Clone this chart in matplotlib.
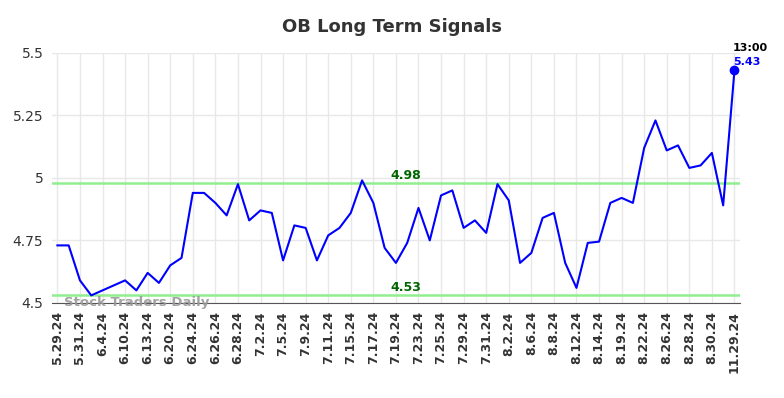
import matplotlib
matplotlib.use("Agg")
import matplotlib.pyplot as plt

# closing values, one per session; every other session gets a date label
values = [
    4.73, 4.73, 4.59, 4.53, 4.55, 4.57, 4.59, 4.55, 4.62, 4.58,
    4.65, 4.68, 4.94, 4.94, 4.90, 4.85, 4.975, 4.83, 4.87, 4.86,
    4.67, 4.81, 4.80, 4.67, 4.77, 4.80, 4.86, 4.99, 4.90, 4.72,
    4.66, 4.74, 4.88, 4.75, 4.93, 4.95, 4.80, 4.83, 4.78, 4.975,
    4.91, 4.66, 4.70, 4.84, 4.86, 4.66, 4.56, 4.74, 4.745, 4.90,
    4.92, 4.90, 5.12, 5.23, 5.11, 5.13, 5.04, 5.05, 5.10, 4.89,
    5.43,
]
tick_labels = [
    "5.29.24", "5.31.24", "6.4.24", "6.10.24", "6.13.24", "6.20.24",
    "6.24.24", "6.26.24", "6.28.24", "7.2.24", "7.5.24", "7.9.24",
    "7.11.24", "7.15.24", "7.17.24", "7.19.24", "7.23.24", "7.25.24",
    "7.29.24", "7.31.24", "8.2.24", "8.6.24", "8.8.24", "8.12.24",
    "8.14.24", "8.19.24", "8.22.24", "8.26.24", "8.28.24", "8.30.24",
    "11.29.24",
]
upper_level = 4.98
lower_level = 4.53
last_time = "13:00"

fig = plt.figure(figsize=(7.84, 3.98), dpi=100)
ax = fig.add_axes([0.066, 0.239, 0.878, 0.628])

x = list(range(len(values)))
ax.plot(x, values, color="#0000ff", lw=1.5, zorder=3)
ax.plot(x[-1], values[-1], "o", color="#0000ff", ms=6, zorder=4)

ax.axhline(upper_level, color="#90ee90", lw=1.8, zorder=2)
ax.axhline(lower_level, color="#90ee90", lw=1.8, zorder=2)
ax.text(30.9, upper_level + 0.005, f"{upper_level:.2f}", color="#006400",
        fontsize=9, fontweight="bold", ha="center", va="bottom")
ax.text(30.9, lower_level + 0.005, f"{lower_level:.2f}", color="#006400",
        fontsize=9, fontweight="bold", ha="center", va="bottom")

ax.annotate(last_time, (x[-1], values[-1]), xytext=(-1, 14),
            textcoords="offset points", ha="left", fontsize=8,
            fontweight="bold", color="black")
ax.annotate(f"{values[-1]:.2f}", (x[-1], values[-1]), xytext=(-1, 4),
            textcoords="offset points", ha="left", fontsize=8,
            fontweight="bold", color="#0000ff")

ax.text(0.018, 0.0, "Stock Traders Daily", transform=ax.transAxes,
        fontsize=9.5, fontweight="bold", color="#999999", alpha=0.9,
        va="center", ha="left")

ax.set_xlim(-0.5, len(values) - 0.5)
ax.set_ylim(4.5, 5.5)
ax.set_xticks(x[::2])
ax.set_xticklabels(tick_labels, rotation=90, fontsize=9, fontweight="bold",
                   color="#333333")
ax.set_yticks([4.5, 4.75, 5.0, 5.25, 5.5])
ax.set_yticklabels(["4.5", "4.75", "5", "5.25", "5.5"], fontsize=10,
                   color="#333333")
ax.tick_params(length=0, pad=6)
ax.grid(True, color="#e8e8e8", lw=1)
ax.set_axisbelow(True)
for side in ("left", "right", "top"):
    ax.spines[side].set_visible(False)
ax.spines["bottom"].set_color("#555555")

fig.suptitle("OB Long Term Signals", x=0.5, y=0.955, fontsize=13,
             fontweight="bold", color="#333333")

fig.savefig("out.png", dpi=100)
